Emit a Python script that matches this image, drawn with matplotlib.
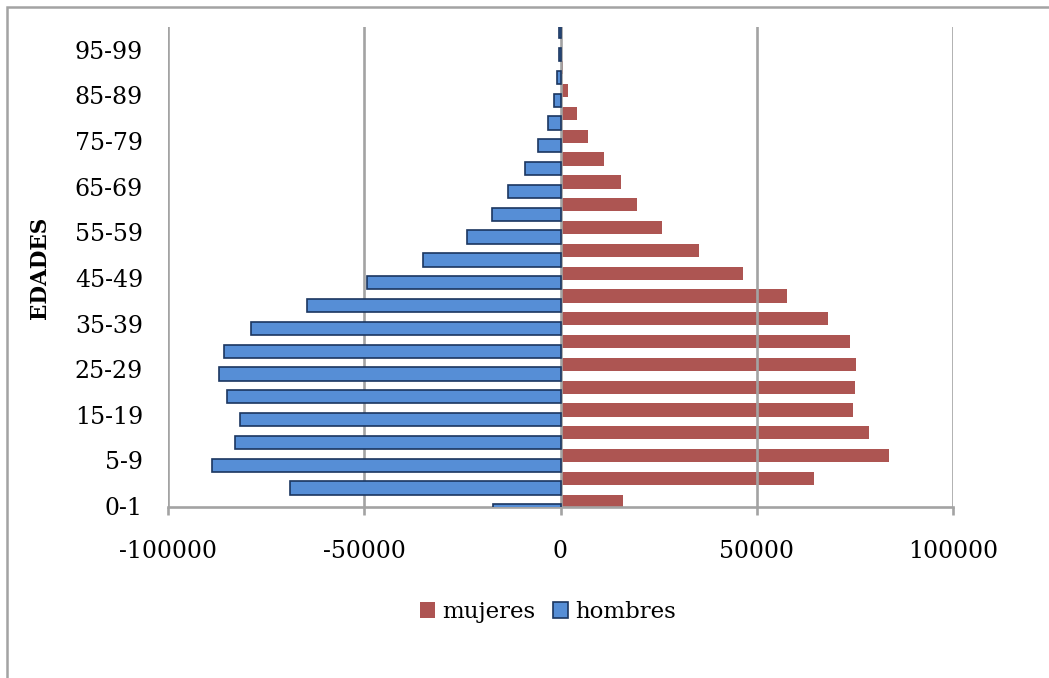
import matplotlib.pyplot as plt
from matplotlib.patches import Patch, Rectangle

# grupos de edad (de abajo hacia arriba)
edades = ['0-1', '1-4', '5-9', '10-14', '15-19', '20-24', '25-29', '30-34',
          '35-39', '40-44', '45-49', '50-54', '55-59', '60-64', '65-69',
          '70-74', '75-79', '80-84', '85-89', '90-94', '95-99', '100+']
hombres = [-17100, -69000, -88900, -83000, -81700, -85000, -87000, -85700,
           -78800, -64700, -49400, -35000, -23900, -17400, -13300, -9000,
           -5800, -3300, -1700, -900, -500, -400]
mujeres = [16000, 64500, 83600, 78700, 74400, 75000, 75400, 73800,
           68200, 57700, 46500, 35400, 25800, 19600, 15400, 11100,
           7100, 4100, 1800, 600, 300, 100]

fuente = 'DejaVu Serif'
plt.rcParams['font.family'] = fuente

fig = plt.figure(figsize=(10.49, 6.78), dpi=100)
ax = fig.add_axes([168/1049, 1-507/678, (953-168)/1049, (507-27)/678])

y = list(range(len(edades)))
off = 0.21
alto = 0.58
ax.barh([i + off for i in y], mujeres, height=alto, color='#A23D3A', alpha=0.88,
        zorder=2, label='mujeres')
ax.barh([i - off for i in y], hombres, height=alto, color='#568ED6',
        edgecolor='#1B3660', linewidth=1.2, zorder=3, label='hombres')

ax.set_xlim(-100000, 100000)
ax.set_ylim(-0.04, 21.0)
ax.set_xticks([-100000, -50000, 0, 50000, 100000])
ax.set_xticklabels(['-100000', '-50000', '0', '50000', '100000'])
ax.set_yticks(y[::2])
ax.set_yticklabels(edades[::2])

gris = '#A3A3A3'
ax.grid(axis='x', color=gris, linewidth=1.9, zorder=2.5)
ax.set_axisbelow(False)
for s in ['top', 'right', 'left']:
    ax.spines[s].set_visible(False)
ax.spines['bottom'].set_color(gris)
ax.spines['bottom'].set_linewidth(1.9)
ax.tick_params(axis='x', length=6, width=1.9, color=gris, labelsize=17, pad=18)
ax.tick_params(axis='y', length=0, labelsize=17, pad=18)
for t in ax.get_yticklabels():
    t.set_y(t.get_position()[1])
    t.set_va('center_baseline')

fig.text(40/1049, 1-268/678, 'EDADES', rotation=90, fontsize=15.5,
         fontweight='bold', ha='center', va='center')

handles = [Patch(facecolor='#AD5452', edgecolor='none', label='mujeres'),
           Patch(facecolor='#568ED6', edgecolor='#1B3660', linewidth=1.2,
                 label='hombres')]
fig.legend(handles=handles, loc='center', bbox_to_anchor=(548/1049, 1-612/678),
           ncol=2, frameon=False, fontsize=16.5, handlelength=0.65,
           handleheight=0.7, handletextpad=0.3, columnspacing=0.8)

# marco exterior del gráfico
fig.patches.append(Rectangle((7/1049, -0.1), 1.2, (1-7/678) + 0.1,
                             transform=fig.transFigure, fill=False,
                             edgecolor=gris, linewidth=1.8))

fig.savefig('out.png', dpi=100)
